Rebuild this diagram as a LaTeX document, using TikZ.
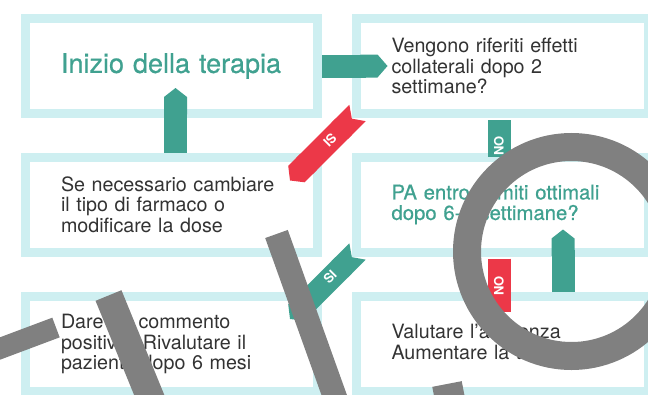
\documentclass[tikz,border=0pt]{standalone}
\usepackage{fontspec}
\setmainfont{TeX Gyre Heros}
\newfontfamily\medio[FakeBold=0.7]{TeX Gyre Heros}
\usetikzlibrary{calc,arrows.meta}
\definecolor{verde}{RGB}{64,161,144}
\definecolor{rosso}{RGB}{236,56,72}
\definecolor{celeste}{RGB}{206,239,241}
\definecolor{testo}{RGB}{51,51,51}
\definecolor{grigio}{RGB}{128,128,128}
\tikzset{%
  casella/.style={draw=celeste,line width=9pt,minimum width=292pt,minimum height=95pt,
    inner xsep=35.5pt,text width=221pt,align=left,text=testo,
    font=\fontsize{19.7}{20.5}\selectfont},%
  titolo/.style={text=verde,font=\medio\fontsize{27}{30}\selectfont},%
  nastro/.style={line width=23pt},%
  etichetta/.style={text=white,font=\fontsize{13}{13}\bfseries\selectfont,inner sep=0pt},%
  coprente/.style={draw=grigio,line width=24pt}%
}

\begin{document}
\begin{tikzpicture}[x=1pt,y=-1pt]%
    \useasboundingbox (0,0) rectangle (648,394);%
    % caselle
    \node[casella,titolo] (inizio) at (171.5,66) {Inizio della terapia};%
    \node[casella] (effetti) at (502,66) {Vengono riferiti effetti\\collaterali dopo 2\\settimane?};%
    \node[casella,text=verde,font=\medio\fontsize{20.3}{20.5}\selectfont] (pa) at (502,204.5) {PA entro i limiti ottimali\\dopo 6-8 settimane?};%
    \node[casella] (modifica) at (171.5,204.5) {Se necessario cambiare\\il tipo di farmaco o\\modificare la dose};%
    \node[casella] (dare) at (171.5,344) {Dare un commento\\positivo. Rivalutare il\\paziente dopo 6 mesi};%
    \node[casella] (valutare) at (502,344) {Valutare l'aderenza\\Aumentare la terapia};%
    % nastri
    \draw[nastro,draw=verde,-{Triangle Cap[length=10pt]}] (inizio.east) -- ($(effetti.west)+(36,0)$);%
    \draw[nastro,draw=verde,-{Triangle Cap[length=9pt]}] ($(modifica.north)+(4,0)$) -- ($(inizio.south)+(4,-30)$);%
    \draw[nastro,draw=rosso,{Triangle Cap[reversed,length=8pt]}-{Triangle Cap[length=9pt]}] ($(effetti.south west)+(6,-5)$) -- ($(modifica.north east)+(-32,28)$);%
    \draw[nastro,draw=verde,{Triangle Cap[reversed,length=8pt]}-{Triangle Cap[length=9pt]}] ($(pa.south west)+(6,-5)$) -- ($(dare.north east)+(-32,27)$);%
    \draw[nastro,draw=verde] ($(effetti.south)+(-3,2)$) -- ($(pa.north)+(-3,4)$);%
    \draw[nastro,draw=rosso] ($(pa.south)+(-3,2)$) -- ($(valutare.north)+(-3,20)$);%
    \draw[nastro,draw=verde,-{Triangle Cap[length=9pt]}] ($(valutare.north)+(61,0)$) -- ($(pa.south)+(61,-27)$);%
    % etichette
    \node[etichetta,rotate=225] (si1) at (330,140) {SI};%
    \node[etichetta,rotate=45] (si2) at (330,277) {SI};%
    \node[etichetta,rotate=90] (no1) at (499,146) {NO};%
    \node[etichetta,rotate=90] (no2) at (499,286) {NO};%
    % forme grigie
    \draw[grigio,line width=28pt] (571.5,251.5) circle[radius=104.5];%
    \draw[coprente] (276.5,234) -- (341,414);%
    \draw[coprente,line width=28pt] (108.5,295.5) -- (157,414);%
    \draw[coprente,line width=21pt] (56,327.5) -- (-20,356);%
    \draw[coprente,line width=30pt] (447,384) -- (452,410);%
\end{tikzpicture}
\end{document}
